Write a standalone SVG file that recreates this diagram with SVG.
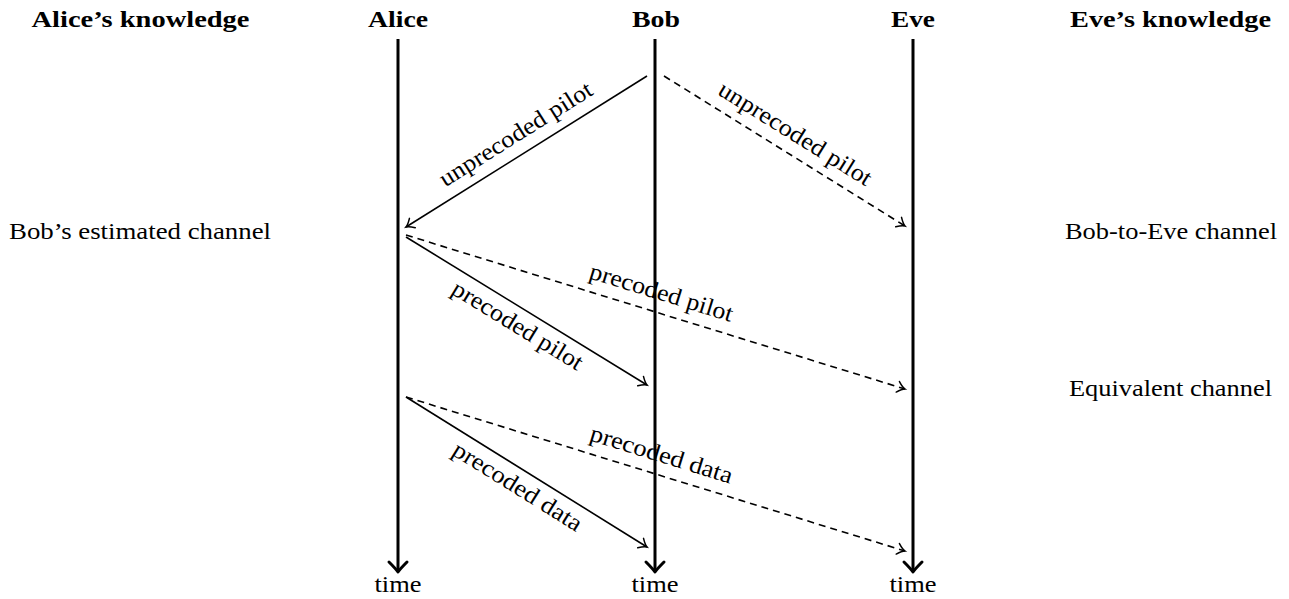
<svg xmlns="http://www.w3.org/2000/svg" width="1289" height="599" viewBox="0 0 1289 599">
<style>
  text { font-family: "Liberation Serif", "DejaVu Serif", serif; font-size: 24px; fill: #000; }
  .b { font-weight: bold; }
  .m { text-anchor: middle; }
  .life { stroke: #000; stroke-width: 3; fill: none; marker-end: url(#big); }
  .msg { stroke: #000; stroke-width: 1.6; fill: none; marker-end: url(#tip); }
  .dash { stroke-dasharray: 7 5; }
</style>
<defs>
  <marker id="tip" markerUnits="userSpaceOnUse" viewBox="-10 -8 12 16" refX="0" refY="0" markerWidth="12" markerHeight="16" orient="auto" overflow="visible">
    <path d="M-7.5,-5.5 Q-3,-1 0,0 Q-3,1 -7.5,5.5" fill="none" stroke="#000" stroke-width="1.5" stroke-dasharray="none" stroke-linecap="round"/>
  </marker>
  <marker id="big" markerUnits="userSpaceOnUse" viewBox="-14 -12 16 24" refX="0" refY="0" markerWidth="16" markerHeight="24" orient="auto" overflow="visible">
    <path d="M-10,-9 Q-3,-2 0,0 Q-3,2 -10,9" fill="none" stroke="#000" stroke-width="3" stroke-linecap="round" stroke-linejoin="round"/>
  </marker>
</defs>
<rect width="1289" height="599" fill="#fff"/>

<g id="alice-knowledge">
  <text class="b m" x="140.5" y="27" textLength="218" lengthAdjust="spacingAndGlyphs">Alice’s knowledge</text>
  <text class="m" x="140" y="239" textLength="262" lengthAdjust="spacingAndGlyphs">Bob’s estimated channel</text>
</g>
<g id="eve-knowledge">
  <text class="b m" x="1170.5" y="27" textLength="201" lengthAdjust="spacingAndGlyphs">Eve’s knowledge</text>
  <text class="m" x="1171" y="239" textLength="212" lengthAdjust="spacingAndGlyphs">Bob-to-Eve channel</text>
  <text class="m" x="1170.5" y="396" textLength="203" lengthAdjust="spacingAndGlyphs">Equivalent channel</text>
</g>
<g id="alice">
  <text class="b m" x="398" y="27" textLength="60" lengthAdjust="spacingAndGlyphs">Alice</text>
  <line class="life" x1="398" y1="39" x2="398" y2="572"/>
  <text class="m" x="398" y="592" textLength="47" lengthAdjust="spacingAndGlyphs">time</text>
</g>
<g id="bob">
  <text class="b m" x="656" y="27" textLength="48" lengthAdjust="spacingAndGlyphs">Bob</text>
  <line class="life" x1="655" y1="39" x2="655" y2="572"/>
  <text class="m" x="655" y="592" textLength="47" lengthAdjust="spacingAndGlyphs">time</text>
</g>
<g id="eve">
  <text class="b m" x="913" y="27" textLength="44" lengthAdjust="spacingAndGlyphs">Eve</text>
  <line class="life" x1="913" y1="39" x2="913" y2="572"/>
  <text class="m" x="913" y="592" textLength="47" lengthAdjust="spacingAndGlyphs">time</text>
</g>

<g id="connectors">
  <line class="msg" x1="647" y1="76" x2="406" y2="227"/>
  <line class="msg dash" x1="664" y1="76" x2="905" y2="226"/>
  <line class="msg" x1="406" y1="237" x2="647" y2="385"/>
  <line class="msg dash" x1="406" y1="235" x2="905" y2="389"/>
  <line class="msg" x1="406" y1="397" x2="647" y2="547"/>
  <line class="msg dash" x1="406" y1="397" x2="905" y2="551"/>

  <text class="m" transform="translate(519.8,140.7) rotate(-32.07)" textLength="176" lengthAdjust="spacingAndGlyphs">unprecoded pilot</text>
  <text class="m" transform="translate(791.2,140.2) rotate(31.9)" textLength="176" lengthAdjust="spacingAndGlyphs">unprecoded pilot</text>
  <text class="m" transform="translate(513.6,332) rotate(31.55)" textLength="149" lengthAdjust="spacingAndGlyphs">precoded pilot</text>
  <text class="m" transform="translate(659.2,299.9) rotate(17.15)" textLength="149" lengthAdjust="spacingAndGlyphs">precoded pilot</text>
  <text class="m" transform="translate(513.5,493) rotate(31.9)" textLength="148" lengthAdjust="spacingAndGlyphs">precoded data</text>
  <text class="m" transform="translate(659.2,461.9) rotate(17.15)" textLength="148" lengthAdjust="spacingAndGlyphs">precoded data</text>
</g>
</svg>
